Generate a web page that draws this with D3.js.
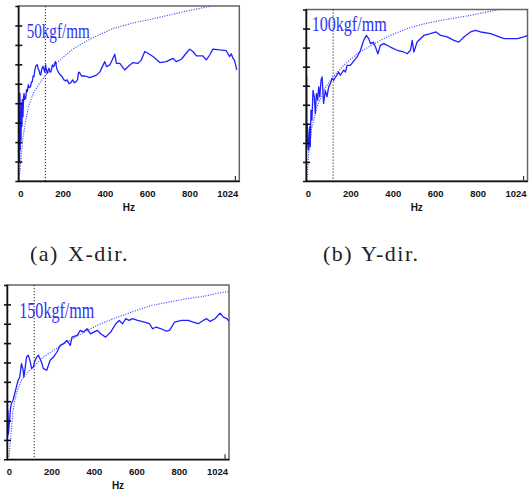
<!DOCTYPE html>
<html>
<head>
<meta charset="utf-8">
<script src="https://cdn.jsdelivr.net/npm/d3@7"></script>
<style>
  body { margin: 0; background: #fff; }
  svg { display: block; }
</style>
</head>
<body>
<svg id="chart" width="531" height="490"></svg>
<script>
// frequency axis (Hz) and the unlabeled stiffness ticks
const freqTicks = [0, 200, 400, 600, 800, 1024];
const stiffTicks = [1, 2, 3, 4, 5, 6, 7, 8];
const markerHz = 128;
const freqMax = 1045;
const stiffMax = 9;

const modelLabels = ["50kgf/mm", "100kgf/mm", "150kgf/mm"];
const captionTags = ["(a)", "(b)"];
const captionDirs = ["X-dir.", "Y-dir."];

// [Hz, value]
const measuredA = [[1,5.0],[3,1.5],[5,3.8],[6,1.0],[8,4.5],[9,1.6],[11,3.2],[13,2.1],[15,4.0],[17,2.8],[19,4.2],[22,3.3],[25,4.3],[27,4.5],[31,4.2],[35,4.25],[39,4.7],[43,4.6],[47,4.95],[52,4.8],[58,4.85],[62,5.1],[66,5.1],[70,5.4],[74,5.37],[78,5.7],[82,5.88],[86,5.97],[90,5.97],[94,5.75],[98,5.7],[102,5.5],[106,5.45],[110,5.7],[113,5.8],[117,5.9],[121,5.75],[125,5.6],[129,5.97],[133,5.7],[137,5.54],[141,5.7],[145,5.8],[149,5.62],[153,5.6],[157,5.75],[161,5.97],[165,5.9],[168,5.88],[172,6.05],[176,6.14],[180,5.9],[184,5.71],[192,5.55],[200,5.45],[208,5.35],[216,5.2],[224,5.15],[231,5.2],[240,5.0],[248,5.05],[257,5.2],[265,5.05],[272,5.1],[280,5.2],[285,5.6],[291,5.55],[299,5.4],[315,5.4],[338,5.32],[370,5.45],[385,5.6],[409,6.14],[417,5.88],[433,5.97],[456,6.52],[464,6.05],[480,6.05],[503,5.71],[527,5.97],[543,6.09],[566,6.05],[582,6.23],[598,6.66],[613,6.57],[637,6.4],[669,6.09],[700,6.14],[731,6.31],[747,6.14],[771,6.26],[794,6.57],[810,6.78],[826,6.66],[842,6.43],[873,6.43],[889,6.23],[905,6.48],[920,6.78],[952,6.74],[983,6.71],[999,6.4],[1007,6.54],[1015,6.31],[1022,6.23],[1033,5.71]];
const modelA = [[4,0.1],[12,1.1],[23,2.3],[35,3.1],[50,3.9],[75,4.6],[105,5.1],[130,5.45],[170,5.95],[215,6.4],[260,6.8],[340,7.3],[450,7.85],[550,8.15],[620,8.3],[700,8.5],[800,8.75],[890,8.95],[950,9.1],[1045,9.25]];

const measuredB = [[1,6.0],[2,1.6],[3,5.5],[4,2.0],[6,3.0],[8,2.15],[10,1.7],[12.6,1.62],[15,2.6],[17,2.84],[20,1.8],[23.6,3.72],[28,3.19],[33,4.76],[39,4.42],[44,3.54],[49,4.59],[55,4.24],[60,4.94],[65,4.42],[71,5.29],[76,5.46],[83,4.07],[91,4.76],[99,4.42],[107,4.94],[115,5.11],[123,5.38],[131,5.29],[139,5.46],[146,5.55],[154,5.72],[162,5.55],[178,5.82],[186,5.72],[194,6.07],[209,6.07],[241,6.51],[257,6.86],[272,7.38],[285,7.64],[296,7.47],[304,7.21],[317,7.29],[328,7.03],[339,6.68],[351,7.12],[367,7.21],[398,7.03],[430,6.86],[461,6.77],[477,6.68],[493,6.86],[501,7.38],[509,6.77],[524,7.29],[556,7.64],[587,7.73],[614,7.82],[635,7.64],[666,7.56],[698,7.38],[721,7.29],[745,7.56],[776,7.82],[800,7.91],[824,7.82],[871,7.73],[934,7.47],[997,7.47],[1028,7.56],[1047,7.64]];
const modelB = [[5,0.05],[12.6,1.45],[28,2.84],[52,3.89],[83,4.76],[126,5.46],[178,6.07],[241,6.68],[320,7.2],[398,7.64],[477,8.0],[556,8.25],[650,8.46],[776,8.69],[887,8.95],[1028,9.2]];

const measuredC = [[1.6,4.77],[3,1.17],[4.8,2.5],[6.5,1.3],[9.5,1.68],[12.7,2.02],[16,2.6],[20.6,2.88],[28.5,3.05],[36.5,3.4],[44.4,3.74],[52.3,4.08],[60.2,4.25],[68.1,4.94],[76,4.6],[79,4.25],[84,4.6],[92,5.28],[100,5.37],[108,5.11],[116,4.68],[124,4.77],[132,5.11],[140,5.28],[148,5.37],[155,5.2],[163,5.0],[171,4.68],[187,4.6],[203,5.11],[219,5.28],[235,5.54],[250,5.88],[266,5.97],[282,6.14],[298,5.88],[306,6.31],[330,6.4],[345,6.66],[361,6.57],[377,6.74],[393,6.48],[409,6.57],[425,6.66],[441,6.48],[464,6.31],[488,6.57],[512,7.0],[528,7.17],[544,7.0],[559,7.26],[575,7.17],[591,7.26],[615,7.17],[647,7.08],[670,7.0],[686,6.74],[702,6.83],[726,6.74],[750,6.62],[765,6.66],[789,7.08],[821,7.17],[853,7.17],[876,7.08],[900,7.0],[924,7.17],[940,7.26],[956,7.12],[979,7.26],[1003,7.55],[1019,7.34],[1035,7.26],[1052,7.03]];
const modelC = [[9.5,0.14],[20.6,1.51],[28.5,2.54],[44,3.4],[68,4.08],[92,4.43],[124,4.77],[171,5.28],[219,5.63],[282,6.05],[361,6.56],[441,7.0],[520,7.34],[599,7.65],[678,7.94],[758,8.11],[837,8.28],[916,8.4],[995,8.58],[1052,8.68]];

// layout of the three panels
const panels = [
  { measured: measuredA, model: modelA, label: modelLabels[0], tag: captionTags[0], dir: captionDirs[0],
    left: 18.3, top: 6, width: 221, height: 175, lx: 8.4, ly: 31.7, lsize: 20, lw: 63, cx: 30 },
  { measured: measuredB, model: modelB, label: modelLabels[1], tag: captionTags[1], dir: captionDirs[1],
    left: 306, top: 9.5, width: 221.5, height: 171.5, lx: 5.7, ly: 21.5, lsize: 21, lw: 75, cx: 323 },
  { measured: measuredC, model: modelC, label: modelLabels[2], tag: null,
    left: 7, top: 285, width: 222, height: 174.3, lx: 12.3, ly: 32.7, lsize: 23, lw: 75 }
];

const svg = d3.select("#chart");

panels.forEach((p, i) => {
  const g = svg.append("g").attr("transform", `translate(${p.left},${p.top})`);
  const x = d3.scaleLinear().domain([0, freqMax]).range([0, p.width]);
  const y = d3.scaleLinear().domain([0, stiffMax]).range([p.height, 0]);

  g.append("clipPath").attr("id", "clip" + i)
    .append("rect").attr("width", p.width).attr("height", p.height);

  // grey frame, black axes drawn on top later
  g.append("rect")
    .attr("width", p.width).attr("height", p.height)
    .attr("fill", "none").attr("stroke", "#666").attr("stroke-width", 1.5);

  g.append("line")
    .attr("x1", x(markerHz)).attr("x2", x(markerHz))
    .attr("y1", 0).attr("y2", p.height)
    .attr("stroke", "#222").attr("stroke-width", 1)
    .attr("stroke-dasharray", "1.2,1.8");

  const line = d3.line().x(d => x(d[0])).y(d => y(d[1]));
  const plot = g.append("g").attr("clip-path", `url(#clip${i})`);

  plot.append("path").datum(p.model)
    .attr("d", line).attr("fill", "none")
    .attr("stroke", "#4550ff").attr("stroke-width", 1.2)
    .attr("stroke-dasharray", "1.1,1.4");

  plot.append("path").datum(p.measured)
    .attr("d", line).attr("fill", "none")
    .attr("stroke", "#2020ff").attr("stroke-width", 1.3)
    .attr("stroke-linejoin", "round");

  g.append("text")
    .attr("x", p.lx).attr("y", p.ly)
    .attr("textLength", p.lw).attr("lengthAdjust", "spacingAndGlyphs")
    .style("font-family", "'Liberation Serif', 'Times New Roman', serif")
    .style("font-size", p.lsize + "px")
    .attr("fill", "#3030f5")
    .text(p.label);

  // y ticks cross the axis: a short outer part and a longer inner part
  const yOut = g.append("g").call(d3.axisLeft(y).tickValues(stiffTicks).tickSize(3).tickFormat(""));
  const yIn = g.append("g").call(d3.axisRight(y).tickValues(stiffTicks).tickSize(4).tickFormat(""));
  yIn.select(".domain").remove();
  yOut.select(".domain").attr("stroke", "#111").attr("stroke-width", 1.5);
  g.selectAll(".tick line").attr("stroke", "#111").attr("stroke-width", 1.6);

  const xAxis = g.append("g")
    .attr("transform", `translate(0,${p.height})`)
    .call(d3.axisBottom(x).tickValues(freqTicks).tickSize(0).tickSizeOuter(0).tickFormat(d3.format("d")));
  xAxis.select(".domain").attr("stroke", "#111").attr("stroke-width", 1.5);
  xAxis.selectAll("text")
    .attr("y", 16).attr("dy", 0).attr("dx", 2)
    .attr("fill", "#111")
    .style("font-family", "'Liberation Sans', Arial, sans-serif")
    .style("font-size", "9.5px").style("font-weight", "bold");
  xAxis.selectAll(".tick:last-of-type text")
    .attr("text-anchor", "end").attr("dx", 3);

  const endTick = g.append("g")
    .attr("transform", `translate(0,${p.height + 1})`)
    .call(d3.axisTop(x).tickValues([freqTicks[freqTicks.length - 1]]).tickSize(6).tickFormat(""));
  endTick.select(".domain").remove();
  endTick.selectAll("line").attr("stroke", "#333").attr("stroke-width", 1.2);

  g.append("text")
    .attr("x", p.width / 2).attr("y", p.height + 30)
    .attr("text-anchor", "middle")
    .style("font-family", "'Liberation Sans', Arial, sans-serif")
    .style("font-size", "10px").style("font-weight", "bold")
    .attr("fill", "#111")
    .text("Hz");

  if (p.tag) {
    const cap = svg.append("text")
      .attr("y", 261)
      .style("font-family", "'Liberation Serif', 'Times New Roman', serif")
      .style("font-size", "22px")
      .style("letter-spacing", "1.5px")
      .attr("fill", "#222");
    cap.append("tspan").attr("x", p.cx).text(p.tag);
    cap.append("tspan").attr("x", p.cx + 38).text(p.dir);
  }
});
</script>
</body>
</html>
